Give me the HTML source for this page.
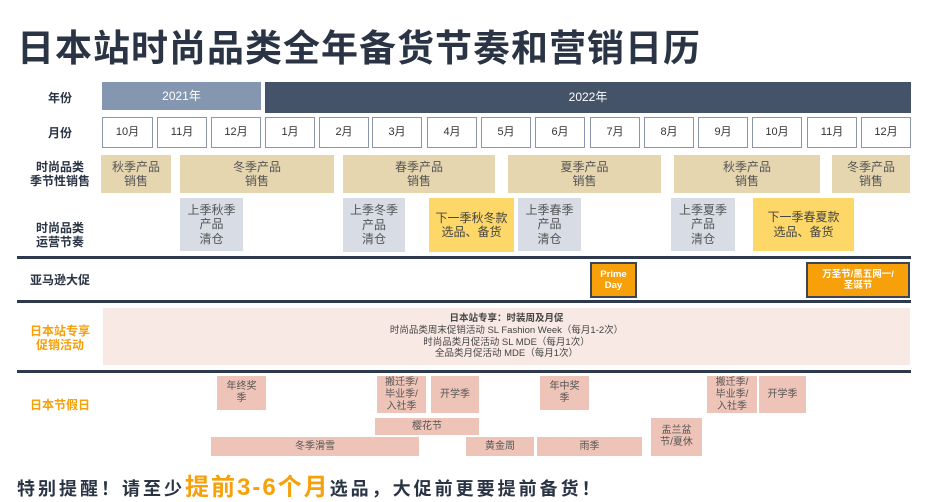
<!DOCTYPE html><html><head><meta charset="utf-8"><style>
body{margin:0;width:925px;height:495px;background:#fff;position:relative;overflow:hidden;font-family:"Liberation Sans","Noto Sans CJK SC",sans-serif;color:#333}
.b{position:absolute;display:flex;align-items:center;justify-content:center;text-align:center;box-sizing:border-box;line-height:1.2}
.m{border:1.5px solid #8a96a8;background:#fff;font-size:11px;color:#333}
.s{background:#e6d6b0;font-size:12px;color:#555}
.g{background:#d7dce5;font-size:12px;color:#555}
.y{background:#fdd868;font-size:12px;color:#444}
.h{background:#efc4b8;font-size:10px;color:#555}
.l{font-weight:bold;font-size:12px;color:#2a3444}
.o{background:#f7a00a;border:2px solid #3a4556;color:#fff;font-weight:bold;font-size:9.5px}
.ln{position:absolute;left:17px;width:894px;height:3px;background:#2d3a4d}
</style></head><body>
<div style="position:absolute;left:17px;top:18px;font-size:37px;font-weight:bold;color:#2a3444;letter-spacing:1px;white-space:nowrap">日本站时尚品类全年备货节奏和营销日历</div>
<div class="b l" style="left:20px;top:85px;width:80px;height:26px">年份</div>
<div class="b l" style="left:20px;top:118px;width:80px;height:30px">月份</div>
<div class="b l" style="left:20px;top:155px;width:80px;height:38px">时尚品类<br>季节性销售</div>
<div class="b l" style="left:20px;top:215px;width:80px;height:40px">时尚品类<br>运营节奏</div>
<div class="b l" style="left:20px;top:267px;width:80px;height:26px">亚马逊大促</div>
<div class="b l" style="left:20px;top:318px;width:80px;height:40px;color:#f7a00a">日本站专享<br>促销活动</div>
<div class="b l" style="left:20px;top:392px;width:80px;height:26px;color:#f7a00a">日本节假日</div>
<div class="b" style="left:102px;top:82px;width:159px;height:28px;background:#8597b0;color:#fff;font-size:12px">2021年</div>
<div class="b" style="left:265px;top:82px;width:646px;height:31px;background:#455369;color:#fff;font-size:12px">2022年</div>
<div class="b m" style="left:102px;top:117px;width:51px;height:31px">10月</div>
<div class="b m" style="left:157px;top:117px;width:50px;height:31px">11月</div>
<div class="b m" style="left:211px;top:117px;width:50px;height:31px">12月</div>
<div class="b m" style="left:265px;top:117px;width:50px;height:31px">1月</div>
<div class="b m" style="left:319px;top:117px;width:50px;height:31px">2月</div>
<div class="b m" style="left:372px;top:117px;width:50px;height:31px">3月</div>
<div class="b m" style="left:427px;top:117px;width:50px;height:31px">4月</div>
<div class="b m" style="left:481px;top:117px;width:50px;height:31px">5月</div>
<div class="b m" style="left:535px;top:117px;width:50px;height:31px">6月</div>
<div class="b m" style="left:590px;top:117px;width:50px;height:31px">7月</div>
<div class="b m" style="left:644px;top:117px;width:50px;height:31px">8月</div>
<div class="b m" style="left:698px;top:117px;width:50px;height:31px">9月</div>
<div class="b m" style="left:752px;top:117px;width:50px;height:31px">10月</div>
<div class="b m" style="left:807px;top:117px;width:50px;height:31px">11月</div>
<div class="b m" style="left:861px;top:117px;width:50px;height:31px">12月</div>
<div class="b s" style="left:101px;top:155px;width:70px;height:38px">秋季产品<br>销售</div>
<div class="b s" style="left:180px;top:155px;width:154px;height:38px">冬季产品<br>销售</div>
<div class="b s" style="left:343px;top:155px;width:152px;height:38px">春季产品<br>销售</div>
<div class="b s" style="left:508px;top:155px;width:153px;height:38px">夏季产品<br>销售</div>
<div class="b s" style="left:674px;top:155px;width:146px;height:38px">秋季产品<br>销售</div>
<div class="b s" style="left:832px;top:155px;width:78px;height:38px">冬季产品<br>销售</div>
<div class="b g" style="left:180px;top:198px;width:63px;height:53px">上季秋季<br>产品<br>清仓</div>
<div class="b g" style="left:343px;top:198px;width:62px;height:54px">上季冬季<br>产品<br>清仓</div>
<div class="b y" style="left:429px;top:198px;width:85px;height:54px">下一季秋冬款<br>选品、备货</div>
<div class="b g" style="left:518px;top:198px;width:63px;height:53px">上季春季<br>产品<br>清仓</div>
<div class="b g" style="left:671px;top:198px;width:64px;height:53px">上季夏季<br>产品<br>清仓</div>
<div class="b y" style="left:753px;top:198px;width:101px;height:53px">下一季春夏款<br>选品、备货</div>
<div class="ln" style="top:256px"></div>
<div class="b o" style="left:590px;top:262px;width:47px;height:36px">Prime<br>Day</div>
<div class="b o" style="left:806px;top:262px;width:104px;height:36px">万圣节/黑五网一/<br>圣诞节</div>
<div class="ln" style="top:300px"></div>
<div class="b" style="left:103px;top:308px;width:807px;height:57px;background:#f9e9e5;font-size:9.5px;color:#444;line-height:1.25;flex-direction:column"><b>日本站专享：时装周及月促</b>时尚品类周末促销活动 SL Fashion Week（每月1-2次）<br>时尚品类月促活动 SL MDE（每月1次）<br>全品类月促活动 MDE（每月1次）</div>
<div class="ln" style="top:370px"></div>
<div class="b h" style="left:217px;top:376px;width:49px;height:34px">年终奖<br>季</div>
<div class="b h" style="left:377px;top:376px;width:49px;height:37px">搬迁季/<br>毕业季/<br>入社季</div>
<div class="b h" style="left:431px;top:376px;width:48px;height:37px">开学季</div>
<div class="b h" style="left:540px;top:376px;width:49px;height:34px">年中奖<br>季</div>
<div class="b h" style="left:707px;top:376px;width:50px;height:37px">搬迁季/<br>毕业季/<br>入社季</div>
<div class="b h" style="left:759px;top:376px;width:47px;height:37px">开学季</div>
<div class="b h" style="left:375px;top:418px;width:104px;height:17px">樱花节</div>
<div class="b h" style="left:651px;top:418px;width:51px;height:38px">盂兰盆<br>节/夏休</div>
<div class="b h" style="left:211px;top:437px;width:208px;height:19px">冬季滑雪</div>
<div class="b h" style="left:466px;top:437px;width:68px;height:19px">黄金周</div>
<div class="b h" style="left:537px;top:437px;width:105px;height:19px">雨季</div>
<div style="position:absolute;left:17px;top:467px;white-space:nowrap;font-weight:bold;font-size:18px;color:#2a3444;letter-spacing:3px">特别提醒！请至少<span style="color:#f7a00a;font-size:24px;letter-spacing:2px">提前3-6个月</span>选品，大促前更要提前备货！</div>
</body></html>
